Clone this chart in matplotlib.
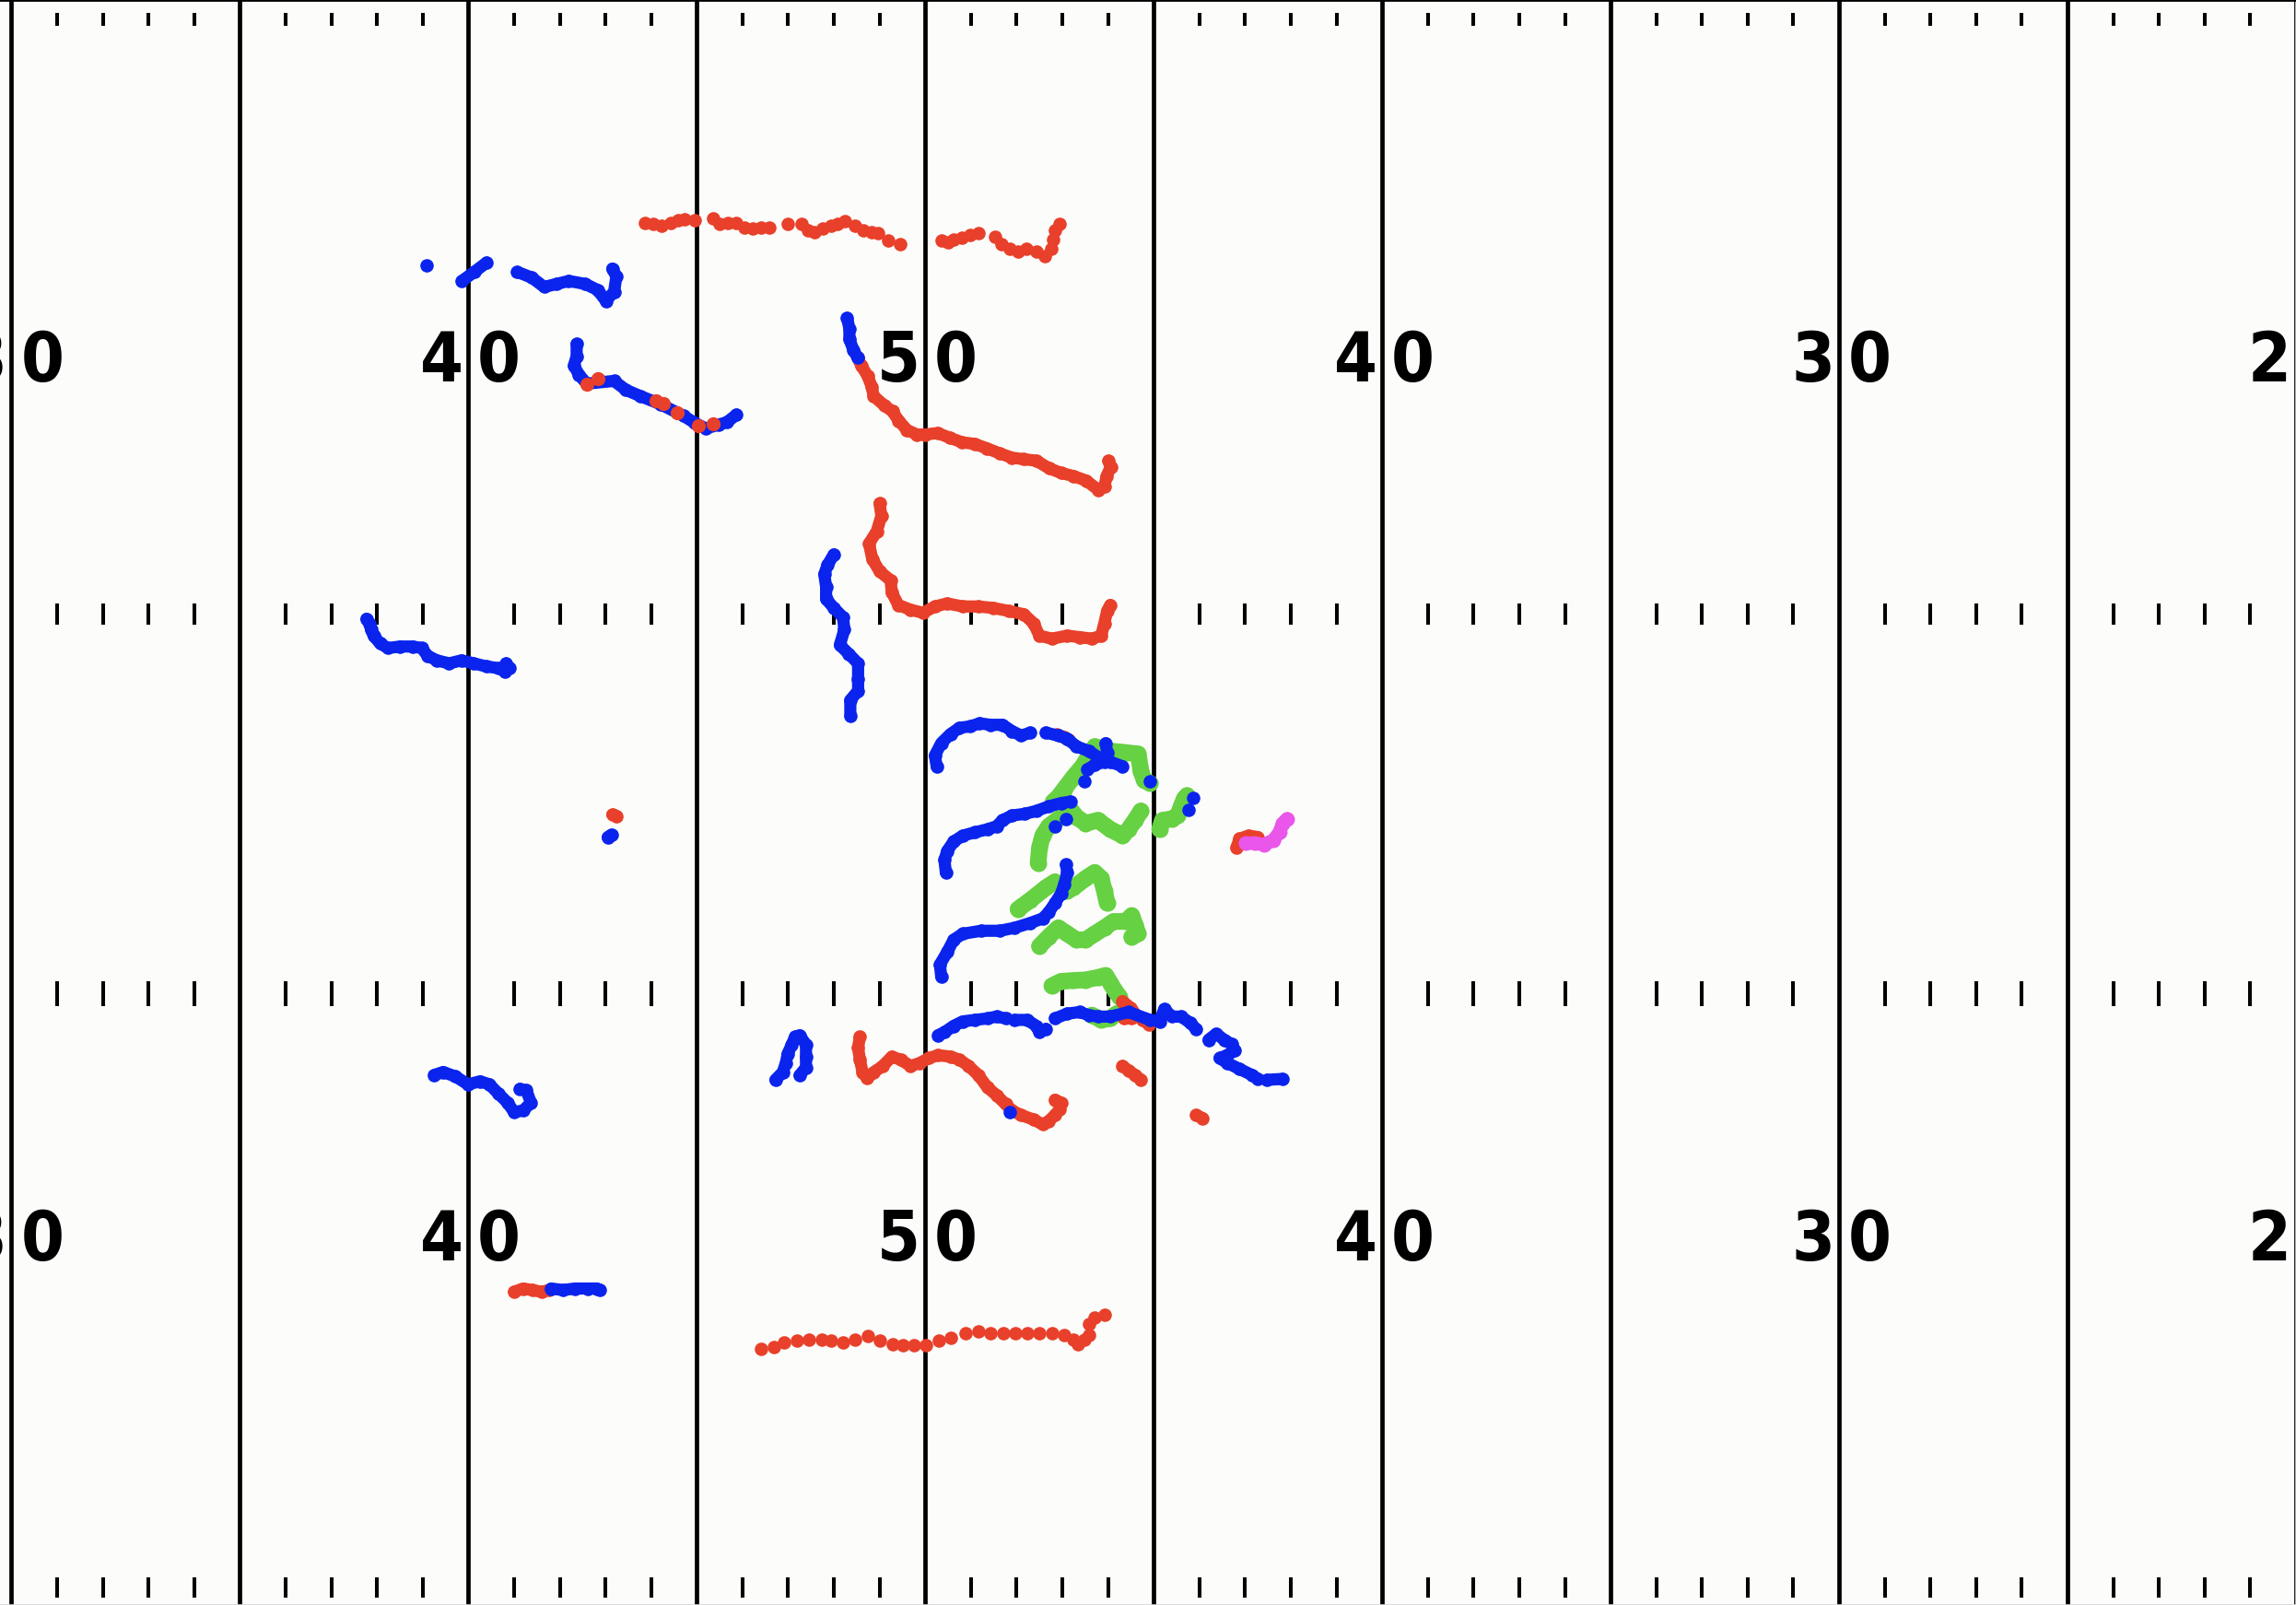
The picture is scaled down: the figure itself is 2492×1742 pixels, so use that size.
import numpy as np
import matplotlib.pyplot as plt
from matplotlib import font_manager

nan = np.nan

# ---- field markings (yards: x along the field, y across it) ----
yard_lines = [40, 45, 50, 55, 60, 65, 70, 75, 80, 85, 90]
number_lines = [40, 50, 60, 70, 80, 90]
number_labels = ['30', '40', '50', '40', '30', '20']
number_rows = [41.25, 12.06]
tick_rows = [(52.43, 52.87), (32.54, 33.27), (19.89, 20.72), (0.24, 0.92)]

# ---- player tracks ----
# red team
red_top_x = [53.87, 54.05, 54.23, 54.42, 54.60, 54.73, 54.96, 55.36, 55.50, 55.68, 55.86, 56.04, 56.22, 56.40,
             56.58, 56.99, 57.30, 57.43, 57.57, 57.75, 57.93, 58.07, 58.25, 58.47, 58.65, 58.83, 58.97, 59.19,
             59.46, 60.36, 60.50, 60.63, 60.81, 60.99, 61.17, 61.53, 61.67, 61.85, 62.03, 62.21, 62.43, 62.62,
             62.75, 62.80, 62.84, 62.93]
red_top_y = [45.91, 45.86, 45.81, 45.91, 45.98, 46.01, 45.98, 46.06, 45.86, 45.91, 45.91, 45.75, 45.70, 45.75,
             45.75, 45.86, 45.86, 45.65, 45.60, 45.70, 45.81, 45.86, 45.96, 45.81, 45.65, 45.60, 45.55, 45.30,
             45.19, 45.30, 45.25, 45.35, 45.40, 45.50, 45.55, 45.45, 45.19, 45.04, 44.94, 45.04, 44.94, 44.79,
             45.04, 45.35, 45.65, 45.86]

red_curve_x = [58.52, 58.60, 58.74, 58.83, 58.87, 59.10, 59.28, 59.42, 59.60, 59.82, 60.00, 60.27, 60.54, 60.81,
               61.08, 61.35, 61.62, 61.90, 62.16, 62.43, 62.71, 62.98, 63.25, 63.52, 63.79, 63.92, 63.97, 64.06, 64.01]
red_curve_y = [41.42, 41.16, 40.81, 40.45, 40.15, 39.84, 39.64, 39.33, 39.02, 38.87, 38.87, 38.92, 38.76, 38.61,
               38.56, 38.41, 38.25, 38.10, 38.05, 38.00, 37.75, 37.59, 37.49, 37.34, 37.03, 37.14, 37.49, 37.80, 38.00]

red_hook_x = [59.00, 59.04, 58.94, 58.77, 58.84, 59.00, 59.24, 59.27, 59.41, 59.68, 59.95, 60.21, 60.48, 60.82,
              61.16, 61.49, 61.83, 62.16, 62.37, 62.50, 62.77, 63.11, 63.38, 63.65, 63.85, 63.92, 63.98, 64.05]
red_hook_y = [36.58, 36.17, 35.66, 35.25, 34.74, 34.33, 34.03, 33.62, 33.21, 33.05, 32.95, 33.16, 33.26, 33.16,
              33.16, 33.11, 33.01, 32.90, 32.60, 32.19, 32.09, 32.19, 32.14, 32.09, 32.19, 32.60, 33.01, 33.21]

red_mix_x = [52.59, 52.83, 54.11, 54.27, 54.58, 55.04, 55.35]
red_mix_y = [40.55, 40.71, 39.99, 39.89, 39.58, 39.17, 39.23]

red_bits_x = [53.15, 53.25, nan, 62.87, 63.04, 63.14, nan, 64.32, 64.45, 64.59, 64.72, nan, 65.93, 66.07]
red_bits_y = [26.25, 26.20, nan, 28.90, 28.82, 28.74, nan, 17.90, 17.75, 17.60, 17.44, nan, 16.27, 16.17]

red_d_x = [64.32, 64.49, 64.62, 64.76, 64.89, nan, 64.35, 64.52]
red_d_y = [20.05, 19.84, 19.59, 19.43, 19.28, nan, 19.48, 19.48]

red_f_x = [58.57, 58.53, 58.57, 58.63, 58.73, 58.87, 59.07, 59.27, 59.47, 59.68, 59.88, 60.08, 60.28, 60.55,
           60.75, 60.95, 61.16, 61.36, 61.56, 61.76, 61.90, 62.10, 62.37, 62.57, 62.70, 62.84, 62.94, 62.97, 62.84]
red_f_y = [18.87, 18.51, 18.10, 17.69, 17.49, 17.69, 17.90, 18.21, 18.10, 17.90, 18.00, 18.16, 18.26, 18.21,
           18.11, 17.90, 17.60, 17.19, 16.93, 16.63, 16.42, 16.27, 16.12, 15.96, 16.07, 16.27, 16.47, 16.68, 16.78]

red_mag_x = [66.81, 66.88, 67.08, 67.28]
red_mag_y = [25.15, 25.45, 25.55, 25.50]

red_i_x = [51.00, 51.20, 51.40, 51.60, 51.77]
red_i_y = [10.40, 10.51, 10.46, 10.40, 10.46]

red_bottom_x = [56.41, 56.68, 56.92, 57.19, 57.46, 57.73, 57.93, 58.20, 58.47, 58.74, 59.01, 59.28, 59.51, 59.75,
                60.02, 60.29, 60.55, 60.89, 61.16, 61.43, 61.70, 61.97, 62.24, 62.50, 62.77, 63.04, 63.25, 63.35,
                63.48, 63.58, 63.58, 63.71, 63.92]
red_bottom_y = [8.52, 8.57, 8.72, 8.77, 8.82, 8.82, 8.77, 8.72, 8.82, 8.93, 8.77, 8.67, 8.62, 8.62,
                8.64, 8.77, 8.88, 9.03, 9.08, 9.03, 9.03, 9.03, 9.03, 9.03, 9.03, 8.98, 8.82, 8.67,
                8.82, 8.98, 9.33, 9.54, 9.64]

# blue team
blue_top_x = [49.09, nan, 49.86, 50.13, 50.40, nan, 51.07, 51.39, 51.66, 51.93, 52.20, 52.56, 52.83, 53.01,
              53.19, 53.24, 53.15]
blue_top_y = [44.48, nan, 43.97, 44.27, 44.58, nan, 44.27, 44.08, 43.77, 43.87, 43.97, 43.87, 43.67, 43.31,
              43.61, 44.12, 44.38]

blue_hook_x = [52.37, 52.37, 52.31, 52.42, 52.59, 53.19, 53.45, 53.76, 54.20, 54.71, 54.96, 55.20, 55.48, 55.66, 55.87]
blue_hook_y = [41.88, 41.47, 41.16, 40.86, 40.56, 40.65, 40.35, 40.15, 39.88, 39.49, 39.25, 39.07, 39.20, 39.28, 39.53]

blue_curve_x = [58.29, 58.34, 58.34, 58.43, 58.52]
blue_curve_y = [42.74, 42.39, 42.03, 41.67, 41.42]

blue_left_x = [47.77, 47.84, 47.87, 47.93, 48.07, 48.24, 48.51, 48.78, 48.98, 49.11, 49.31, 49.58, 49.85, 50.12,
               50.39, 50.66, 50.80, 50.90, 50.83]
blue_left_y = [32.75, 32.59, 32.39, 32.18, 31.93, 31.78, 31.83, 31.83, 31.78, 31.52, 31.37, 31.27, 31.37, 31.27,
               31.17, 31.11, 31.01, 31.11, 31.27]

blue_vert_x = [58.00, 57.86, 57.79, 57.83, 57.83, 58.00, 58.20, 58.23, 58.13, 58.33, 58.53, 58.53, 58.53, 58.36, 58.36]
blue_vert_y = [34.89, 34.53, 34.23, 33.82, 33.41, 33.11, 32.80, 32.39, 31.88, 31.58, 31.27, 30.76, 30.36, 30.05, 29.54]

blue_a_x = [60.25, 60.21, 60.35, 60.55, 60.75, 60.99, 61.19, 61.43, 61.69, 61.90, 62.10, 62.30, nan,
            62.64, 62.91, 63.11, 63.31, 63.58, 63.78, 64.05, 64.32]
blue_a_y = [27.85, 28.21, 28.62, 28.92, 29.13, 29.18, 29.28, 29.23, 29.23, 29.02, 28.87, 28.97, nan,
            28.97, 28.87, 28.77, 28.51, 28.36, 28.16, 28.00, 27.85]

blue_blob_x = [63.95, 63.98, 63.92, 63.71, 63.55, nan, 63.48, nan, 64.92, nan, 65.87, nan, 65.77, nan, 53.05, 53.13]
blue_blob_y = [28.62, 28.31, 28.00, 27.90, 27.75, nan, 27.34, nan, 27.34, nan, 26.80, nan, 26.42, nan, 25.50, 25.58]

blue_b_x = [60.45, 60.42, 60.48, 60.62, 60.82, 61.09, 61.36, 61.56, 61.69, 61.90, 62.17, 62.43, 62.70, 62.97,
            63.18, nan, 62.84, nan, 63.08]
blue_b_y = [24.33, 24.74, 25.04, 25.35, 25.55, 25.66, 25.76, 25.86, 26.06, 26.22, 26.27, 26.37, 26.52, 26.63,
            26.68, nan, 25.86, nan, 26.11]

blue_c_x = [60.35, 60.32, 60.48, 60.62, 60.82, 61.22, 61.63, 61.96, 62.30, 62.57, 62.70, 62.84, 62.97, 63.04, 63.11, 63.08]
blue_c_y = [20.86, 21.27, 21.68, 22.09, 22.29, 22.39, 22.39, 22.49, 22.65, 22.80, 23.00, 23.31, 23.62, 23.92, 24.33, 24.59]

blue_e_x = [60.28, 60.42, 60.62, 60.82, 61.09, 61.36, 61.56, 61.76, nan,
            61.96, 62.23, 62.43, 62.50, 62.64, nan,
            62.84, 63.11, 63.38, 63.58, 63.78, 64.05, 64.45, 64.92, 65.13, 65.23, 65.40, 65.60, 65.80, 65.93, nan,
            66.20, 66.37, 66.54, 66.71, 66.78, 66.61, 66.44, 66.61, 66.88, 67.15, 67.28, nan,
            67.48, 67.82]
blue_e_y = [18.92, 19.02, 19.23, 19.38, 19.43, 19.48, 19.54, 19.48, nan,
            19.43, 19.43, 19.23, 19.02, 19.13, nan,
            19.48, 19.64, 19.69, 19.59, 19.54, 19.54, 19.69, 19.43, 19.38, 19.79, 19.54, 19.54, 19.33, 19.13, nan,
            18.77, 18.97, 18.77, 18.62, 18.41, 18.26, 18.16, 18.00, 17.80, 17.60, 17.47, nan,
            17.44, 17.47]

blue_g_x = [56.72, 56.88, 56.95, 56.99, 57.08, 57.15, 57.25, 57.39, 57.39, 57.39, 57.25, nan, 61.86]
blue_g_y = [17.44, 17.69, 18.00, 18.31, 18.61, 18.87, 18.92, 18.61, 18.21, 17.85, 17.59, nan, 16.37]

blue_h_x = [49.25, 49.45, 49.72, 49.99, 50.26, 50.46, 50.66, 50.86, 51.00, 51.20, 51.37, 51.27, 51.13]
blue_h_y = [17.60, 17.70, 17.55, 17.29, 17.39, 17.29, 16.98, 16.68, 16.37, 16.42, 16.68, 17.09, 17.14]

blue_i_x = [51.81, 52.07, 52.34, 52.61, 52.81, 52.88]
blue_i_y = [10.51, 10.46, 10.51, 10.51, 10.51, 10.46]

# green (third group)
green_1_x = [62.80, 62.91, 63.04, 63.24, 63.44, 63.71, 64.05, 64.39, 64.66, 64.72, 64.79, 64.92]
green_1_y = [26.68, 26.83, 27.09, 27.49, 27.85, 28.51, 28.36, 28.31, 28.26, 27.70, 27.39, 27.29]
green_2_x = [62.47, 62.50, 62.57, 62.70, 62.97, 63.18, 63.31, 63.51, 63.78, 64.05, 64.32, 64.45, 64.59, 64.72]
green_2_y = [24.64, 25.15, 25.55, 25.86, 26.17, 26.42, 26.17, 25.96, 26.06, 25.76, 25.55, 25.76, 26.06, 26.37]
green_3_x = [65.13, 65.19, 65.40, 65.53, 65.60, 65.67, 65.73]
green_3_y = [25.76, 26.06, 26.11, 26.22, 26.52, 26.78, 26.88]
green_4_x = [62.03, 62.30, 62.64, 62.84, 63.11, 63.24, 63.51, 63.71, 63.85, 63.92, 63.98]
green_4_y = [23.11, 23.41, 23.82, 24.02, 23.72, 23.82, 24.13, 24.33, 24.13, 23.72, 23.31]
green_5_x = [62.50, 62.70, 62.91, 63.11, 63.31, 63.51, 63.71, 63.92, 64.12, 64.39, 64.52, 64.59, 64.66, 64.52]
green_5_y = [21.88, 22.19, 22.49, 22.29, 22.09, 22.09, 22.29, 22.49, 22.70, 22.70, 22.90, 22.59, 22.29, 22.19]
green_6_x = [62.77, 62.97, 63.24, 63.51, 63.78, 63.95, 64.05, 64.15, 64.25]
green_6_y = [20.56, 20.71, 20.74, 20.76, 20.84, 20.91, 20.66, 20.40, 20.20]
green_7_x = [63.65, 63.85, 64.05, 64.19]
green_7_y = [19.59, 19.43, 19.48, 19.64]

# magenta
magenta_x = [67.01, 67.21, 67.41, 67.62, 67.75, 67.82, 67.92]
magenta_y = [25.30, 25.30, 25.25, 25.40, 25.66, 25.96, 26.11]

RED = '#e8402a'
BLUE = '#0a24ee'
GREEN = '#66d143'
MAGENTA = '#ea55ea'

# narrow bold face for the yard numbers, whichever is installed
fonts = font_manager.fontManager.ttflist
if any(f.name == 'Liberation Sans Narrow' for f in fonts):
    num_font = dict(family='Liberation Sans Narrow')
elif any(f.name == 'DejaVu Sans' and f.stretch == 'condensed' for f in fonts):
    num_font = dict(family='DejaVu Sans', stretch='condensed')
else:
    num_font = dict(family='Roboto')

fig = plt.figure(figsize=(24.92, 17.42), dpi=100)
ax = fig.add_axes([0, 0, 1, 1])
ax.set_facecolor('#fcfcfa')
fig.patch.set_facecolor('#fcfcfa')

for x in yard_lines:
    ax.axvline(x, color='black', lw=3.4, zorder=1)
for lo, hi in tick_rows:
    for x in range(40, 90):
        if x % 5:
            ax.plot([x, x], [lo, hi], color='black', lw=2.9, solid_capstyle='butt', zorder=1)
for yc in number_rows:
    for x, lab in zip(number_lines, number_labels):
        ax.text(x - 0.1, yc, lab[0], ha='right', va='center', fontsize=54, fontweight='bold', zorder=1, **num_font)
        ax.text(x + 0.2, yc, lab[1], ha='left', va='center', fontsize=54, fontweight='bold', zorder=1, **num_font)


def track(x, y, color, lw=9.5, ms=10.5, joined=True, z=3):
    if joined:
        ax.plot(x, y, '-', color=color, lw=lw, solid_capstyle='round', solid_joinstyle='round', zorder=z)
    ax.plot(x, y, 'o', color=color, ms=ms, mec='none', zorder=z)


greens = [(green_1_x, green_1_y), (green_2_x, green_2_y), (green_3_x, green_3_y), (green_4_x, green_4_y),
          (green_5_x, green_5_y), (green_6_x, green_6_y), (green_7_x, green_7_y)]
for gx, gy in greens:
    track(gx, gy, GREEN, lw=13, ms=13, z=3)

track(red_top_x, red_top_y, RED, joined=False, ms=10.5, z=4)
track(red_bottom_x, red_bottom_y, RED, joined=False, ms=10.5, z=4)
for rx, ry in [(red_curve_x, red_curve_y), (red_hook_x, red_hook_y), (red_d_x, red_d_y),
               (red_f_x, red_f_y), (red_mag_x, red_mag_y), (red_i_x, red_i_y)]:
    track(rx, ry, RED, z=4)
track(red_bits_x, red_bits_y, RED, z=4)

blues = [(blue_top_x, blue_top_y), (blue_hook_x, blue_hook_y), (blue_curve_x, blue_curve_y),
         (blue_left_x, blue_left_y), (blue_vert_x, blue_vert_y), (blue_a_x, blue_a_y),
         (blue_blob_x, blue_blob_y), (blue_b_x, blue_b_y), (blue_c_x, blue_c_y), (blue_e_x, blue_e_y),
         (blue_g_x, blue_g_y), (blue_h_x, blue_h_y), (blue_i_x, blue_i_y)]
for bx, by in blues:
    track(bx, by, BLUE, z=5)

track(red_mix_x, red_mix_y, RED, joined=False, ms=11, z=6)
track(magenta_x, magenta_y, MAGENTA, lw=10.5, ms=11.5, z=7)

ax.set_xlim(39.75, 90.0)
ax.set_ylim(0, 53.3)
ax.set_xticks([])
ax.set_yticks([])
for side in ['right', 'bottom']:
    ax.spines[side].set_color('#d6d6d6')
    ax.spines[side].set_linewidth(1.2)
ax.spines['left'].set_visible(False)
ax.spines['top'].set_color('black')
ax.spines['top'].set_linewidth(2)

fig.savefig('out.png', dpi=100, facecolor=fig.get_facecolor())
